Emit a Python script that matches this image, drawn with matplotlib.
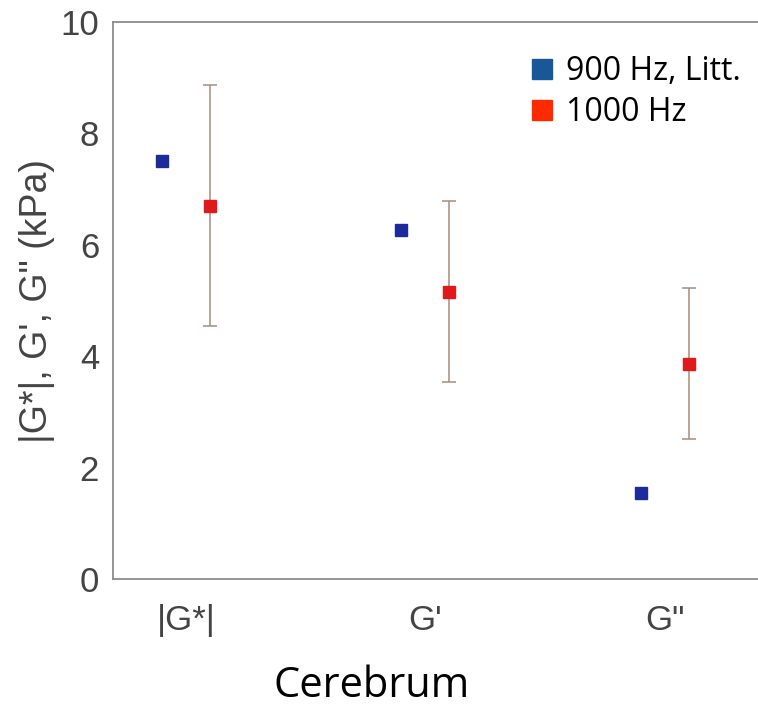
import matplotlib.pyplot as plt
from matplotlib.lines import Line2D

# Data
categories = ["|G*|", "G'", "G\""]
lit_900 = [7.50, 6.27, 1.55]
mean_1000 = [6.70, 5.15, 3.87]
upper_1000 = [8.86, 6.79, 5.23]
lower_1000 = [4.54, 3.53, 2.52]

pos = [1, 2, 3]
offset = 0.1

fig = plt.figure(figsize=(7.58, 7.08), dpi=100)
ax = fig.add_axes([0.149, 0.182, 0.851, 0.787])

tick_gray = "#444444"
spine_gray = "#8c8c8c"

x_lit = [p - offset for p in pos]
x_new = [p + offset for p in pos]
err_lo = [m - l for m, l in zip(mean_1000, lower_1000)]
err_hi = [u - m for m, u in zip(mean_1000, upper_1000)]

ax.errorbar(x_new, mean_1000, yerr=[err_lo, err_hi], fmt="none",
            ecolor="#a58c7c", elinewidth=1.1, capsize=5, capthick=1.1, zorder=2)
ax.plot(x_lit, lit_900, "s", color="#1c2a9a", markersize=9, zorder=3)
ax.plot(x_new, mean_1000, "s", color="#e0191b", markersize=9, zorder=3)

ax.set_xlim(0.695, 3.39)
ax.set_ylim(0, 10)
ax.set_xticks(pos)
ax.set_xticklabels(categories)
ax.set_yticks([0, 2, 4, 6, 8, 10])

for side in ["left", "bottom", "top"]:
    ax.spines[side].set_color(spine_gray)
    ax.spines[side].set_linewidth(1.3)
ax.spines["right"].set_visible(False)

ax.tick_params(axis="y", length=0, colors=tick_gray, labelsize=25, pad=10)
ax.tick_params(axis="x", length=0, colors=tick_gray, labelsize=25, pad=18)
for lab in ax.get_xticklabels() + ax.get_yticklabels():
    lab.set_fontfamily("Liberation Sans")
    lab.set_color(tick_gray)

ax.set_ylabel("|G*|, G', G\" (kPa)", fontsize=27, color=tick_gray,
              family="Liberation Sans", labelpad=4)

fig.text(0.49, 0.016, "Cerebrum", fontsize=30, family="Open Sans",
         ha="center", va="baseline", color="black")

handles = [
    Line2D([], [], marker="s", linestyle="none", color="#1a5799", markersize=14),
    Line2D([], [], marker="s", linestyle="none", color="#ff2a00", markersize=14),
]
ax.legend(handles, ["900 Hz, Litt.", "1000 Hz"], loc="upper left",
          bbox_to_anchor=(0.65, 0.94), frameon=False,
          prop={"family": "Open Sans", "size": 23},
          handlelength=0.6, handletextpad=0.45, labelspacing=0.25,
          borderaxespad=0.0, borderpad=0.0)

fig.savefig("out.png", dpi=100)
